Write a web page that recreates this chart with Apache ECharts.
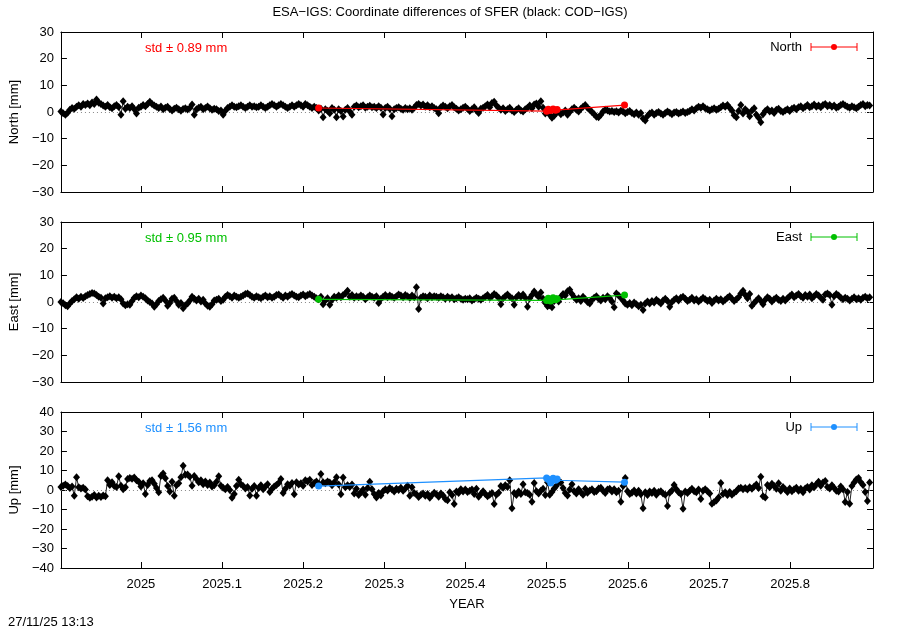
<!DOCTYPE html>
<html>
<head>
<meta charset="utf-8">
<script src="https://cdn.jsdelivr.net/npm/echarts@6/dist/echarts.min.js"></script>
<style>
html,body{margin:0;padding:0;background:#fff;}
#chart{width:900px;height:630px;}
</style>
</head>
<body>
<div id="chart"></div>
<script>
// ---- Data ----
const titleText = 'ESA\u2212IGS: Coordinate differences of SFER (black: COD\u2212IGS)';
const panelNames = ['North', 'East', 'Up'];
const axisNames = ['North [mm]', 'East [mm]', 'Up [mm]'];
const stdLabels = ['std \u00b1 0.89 mm', 'std \u00b1 0.95 mm', 'std \u00b1 1.56 mm'];
const panelColors = ['#ff0000', '#00c000', '#1e90ff'];
const xTickValues = [2025, 2025.1, 2025.2, 2025.3, 2025.4, 2025.5, 2025.6, 2025.7, 2025.8];
const xMin = 2024.9015, xMax = 2025.9022;
const yRanges = [[-30, 30], [-30, 30], [-40, 40]];
// daily sampling grid of the black (COD-IGS) series
const startYear = 2024.9015;
const dayStep = 1 / 365.25;

const northBlack = [
 0.2,-0.5,-1.0,-0.3,0.8,1.5,1.2,2.0,2.5,2.0,
 3.0,2.6,3.2,2.5,3.6,3.0,4.7,3.5,3.0,2.4,
 2.0,2.6,1.8,1.4,2.2,2.6,1.9,-1.0,4.0,1.2,
 2.0,1.5,2.2,1.0,-0.6,1.6,2.0,2.6,2.2,3.0,
 3.8,3.0,2.4,2.0,1.5,2.1,1.0,1.6,2.0,1.1,
 0.6,1.2,1.6,1.0,0.5,1.1,1.4,0.9,1.5,2.8,
 -1.0,1.0,1.6,2.0,1.0,1.5,2.1,1.4,0.8,1.2,
 1.0,0.4,0.6,-1.0,0.5,1.5,2.0,2.5,2.0,1.8,
 2.2,2.5,2.0,1.5,2.0,2.5,2.0,2.2,1.8,2.0,
 2.5,2.0,1.5,2.0,2.5,3.0,2.5,2.0,2.5,3.0,
 2.5,2.0,1.5,2.0,2.5,2.0,2.5,3.0,2.5,2.0,
 3.0,2.5,2.0,1.5,2.0,1.5,0.6,1.2,-2.0,1.0,
 0.5,-0.5,1.5,0.8,-2.0,1.0,0.4,-1.7,0.8,1.5,
 0.2,-1.0,2.0,2.4,1.8,2.2,2.5,1.6,2.0,2.3,
 1.8,2.0,1.5,2.2,1.6,-0.9,1.5,2.0,1.2,-1.6,
 1.0,1.5,1.8,1.2,0.8,1.5,1.0,1.4,0.8,1.6,
 2.6,3.0,2.4,2.8,2.0,2.5,1.8,2.2,1.5,1.0,
 -0.5,1.8,2.4,2.0,1.4,2.2,2.6,1.8,1.2,0.6,
 1.0,1.6,2.0,1.2,0.4,1.0,1.8,0.6,-0.4,1.2,
 1.6,2.2,2.8,1.8,3.4,3.8,2.4,1.6,0.8,1.4,
 0.4,1.0,1.6,0.6,0.0,0.8,1.4,0.6,0.2,1.0,
 1.6,2.4,1.4,2.8,3.2,2.0,4.0,1.6,-0.6,0.4,
 -1.0,-2.2,-1.4,-0.4,0.2,-0.8,-0.2,0.6,-1.0,0.0,
 1.0,1.6,0.8,0.2,1.2,2.0,2.6,1.6,0.8,0.0,
 -0.8,-1.8,-2.0,-1.0,0.2,0.8,0.6,0.2,0.4,0.0,
 0.3,-0.2,0.5,0.2,-0.5,0.0,0.4,-0.4,-0.8,-0.2,
 -1.0,-0.4,-2.4,-3.2,-1.5,-0.6,-0.2,-1.0,-0.4,0.0,
 -0.6,-1.0,-0.4,0.2,-0.3,-0.8,-0.2,0.0,-0.6,-0.2,
 0.2,-0.4,0.0,0.4,1.0,0.6,1.4,2.0,1.6,2.2,
 1.4,1.0,0.6,1.0,1.4,0.8,1.2,1.8,2.4,2.0,
 2.6,1.6,0.6,-1.2,-2.0,0.4,2.6,-0.6,1.0,0.2,
 -1.6,0.6,1.4,-1.0,-2.2,-3.8,-0.8,0.4,1.0,0.2,
 0.6,-0.4,0.8,1.2,0.4,0.0,0.6,1.0,0.4,1.2,
 1.6,1.0,1.8,2.2,1.4,2.0,2.6,1.8,2.2,2.8,
 2.0,2.4,1.8,2.6,3.0,2.2,2.6,2.0,2.4,1.6,
 2.0,2.6,3.0,2.4,2.0,1.6,2.2,1.8,1.4,2.0,
 2.6,3.0,2.2,2.6,2.4
];
const eastBlack = [
 0.0,-0.5,-1.2,-1.6,-0.6,0.4,1.0,1.8,1.2,2.0,
 1.5,2.2,2.6,3.0,3.4,3.2,2.6,2.0,1.6,-0.6,
 1.4,1.8,2.2,1.6,2.0,1.4,1.8,1.0,-0.6,-1.2,
 -0.8,-1.0,0.4,1.6,2.2,1.8,2.4,2.0,1.4,0.6,
 0.0,-0.6,-1.8,-0.8,0.4,1.0,1.6,0.6,-1.4,-0.4,
 1.2,1.6,0.4,-1.0,-0.4,-2.3,-1.2,-0.6,0.6,2.0,
 1.2,0.6,1.2,0.2,0.8,-0.6,-1.4,-1.8,-0.8,0.6,
 0.8,1.2,0.4,0.8,2.0,2.6,2.2,1.6,2.4,2.0,
 1.6,2.0,2.4,3.0,3.2,2.6,2.0,1.6,2.2,1.8,
 1.4,2.0,2.4,1.8,2.2,1.6,2.0,2.6,2.8,2.2,
 1.6,2.4,2.0,2.6,3.0,2.4,2.0,1.8,2.4,2.8,
 2.2,2.6,3.0,2.4,2.0,1.4,1.0,2.0,-0.8,0.6,
 1.4,-1.0,0.8,2.0,1.6,2.4,1.8,2.6,3.2,4.2,
 2.0,2.6,1.6,2.2,1.8,2.4,2.0,1.0,1.8,2.4,
 2.0,1.6,2.2,-0.4,1.2,2.0,2.6,1.8,2.4,2.0,
 1.6,2.2,2.8,2.4,1.8,2.6,2.2,1.6,2.4,1.8,
 5.5,-2.6,1.6,2.2,2.0,1.4,2.4,1.8,2.2,2.0,
 1.6,2.2,1.8,1.2,2.0,1.4,1.8,1.0,1.4,1.8,
 1.2,0.8,1.2,1.0,1.4,0.6,1.0,1.6,1.2,0.8,
 1.4,2.0,2.6,1.6,2.2,3.0,2.4,1.6,-0.8,1.4,
 2.2,2.8,2.0,1.4,-1.0,1.8,2.6,2.0,2.8,1.6,
 -1.8,1.4,2.6,3.9,2.8,2.0,3.6,1.2,-0.4,-1.6,
 -1.2,-2.0,0.4,1.0,0.2,2.0,3.0,2.4,4.0,4.6,
 3.0,1.8,0.8,1.4,0.4,2.0,1.0,0.0,-0.6,0.8,
 1.6,2.2,1.2,0.6,1.6,1.0,2.2,1.4,0.2,-2.0,
 3.2,2.4,1.6,0.6,-0.6,-1.0,-0.4,-1.2,-0.2,-0.8,
 -1.6,-1.0,-3.0,-0.6,0.2,-0.6,0.4,-0.2,0.8,0.2,
 -0.6,0.6,1.2,0.4,-1.8,0.0,0.8,1.4,0.6,1.6,
 2.0,1.2,0.4,0.8,1.6,0.6,1.0,0.2,0.8,1.6,
 1.0,0.4,0.8,-0.4,0.6,1.2,0.6,1.0,0.2,0.8,
 1.6,2.2,1.2,0.4,1.0,1.8,3.2,4.2,2.6,1.4,
 3.0,-1.4,-0.4,0.6,1.4,0.4,-0.8,0.8,1.8,1.2,
 0.2,1.0,1.6,0.8,0.4,1.2,0.6,1.4,2.2,2.8,
 1.8,2.4,3.0,2.2,1.6,2.6,2.0,2.8,1.4,2.2,
 3.0,2.4,1.6,0.8,2.8,3.2,2.6,-1.0,2.2,3.0,
 2.4,1.6,1.0,1.6,1.2,0.6,1.2,1.8,1.0,1.4,
 0.8,1.6,2.0,1.4,1.8
];
const upBlack = [
 1.5,2.2,2.8,2.0,1.0,1.8,-3.0,6.5,1.4,0.8,
 1.2,0.2,-3.2,-4.0,-3.4,-2.6,-3.8,-3.0,-3.6,-2.8,
 -3.2,5.0,2.6,4.0,2.0,1.6,7.0,2.2,0.4,1.4,
 5.6,6.2,5.8,6.4,5.0,4.2,1.8,3.4,-2.0,2.6,
 4.6,5.0,3.2,1.0,-1.2,7.2,8.4,6.0,2.0,-0.8,
 4.2,-3.0,2.4,3.4,6.6,12.4,7.8,8.0,6.8,2.2,
 7.2,5.6,4.0,5.0,3.0,4.4,2.6,3.8,1.8,2.4,
 4.2,7.0,2.2,1.2,0.4,1.6,0.0,-4.0,-2.0,2.0,
 5.2,3.0,2.0,0.8,1.6,-2.8,0.6,2.0,-3.0,1.0,
 2.4,0.4,1.8,3.0,-1.0,0.6,1.8,2.6,3.6,5.6,
 -1.6,0.6,3.0,2.2,3.6,-2.2,4.0,2.8,3.4,2.2,
 5.0,4.4,5.2,2.6,3.6,4.4,3.0,8.2,4.0,3.4,
 4.4,3.8,2.4,4.0,6.6,2.8,-2.2,6.4,1.4,2.4,
 1.6,2.8,-1.8,0.6,-2.6,-1.2,0.2,-2.4,1.0,4.2,
 0.4,-2.0,-3.8,-1.6,-2.8,-0.6,0.4,-0.2,1.0,0.2,
 -0.8,0.6,0.0,1.2,-0.4,0.8,2.2,-3.0,1.4,-1.6,
 -2.2,-3.6,-2.4,-1.8,-3.0,-2.0,-4.0,-2.6,-1.4,-2.2,
 -3.4,-1.8,-2.8,-4.6,-5.2,-1.2,-2.6,-7.2,-0.8,-1.6,
 0.4,-0.8,0.2,-1.0,-0.4,0.2,-2.0,0.6,-3.4,-2.0,
 -0.6,-2.0,-3.2,-2.4,-1.6,-7.2,-2.4,-1.4,2.0,1.2,
 2.4,1.6,5.0,-9.4,-1.6,-2.6,-0.8,-2.0,3.0,-1.2,
 -1.6,-2.4,-6.0,3.6,-0.6,-1.8,-0.4,0.6,-2.6,4.0,
 -2.4,-1.0,0.8,2.2,4.2,3.8,1.0,-1.6,-2.8,0.2,
 3.0,-0.6,-1.8,0.4,-1.2,-2.4,0.6,-1.4,-0.2,0.4,
 -1.0,-0.6,0.8,1.2,-0.4,-1.6,0.2,0.6,-0.8,0.4,
 -1.2,-0.4,-6.0,2.0,6.2,-0.6,-2.0,-1.4,-0.2,-1.8,
 -0.4,-2.2,-9.4,-1.2,-2.6,-0.8,-1.6,-0.4,-2.4,-1.0,
 -0.6,-1.8,-2.4,-8.2,-1.4,-0.2,2.6,0.4,-1.2,-2.0,
 -9.6,-0.8,-1.6,-0.4,0.6,-0.6,-1.2,0.2,-4.6,-0.4,
 0.4,-0.6,-1.8,-7.0,-6.2,-5.4,-3.8,3.6,-2.0,-1.2,
 -2.6,-1.0,-2.4,-1.4,-0.6,0.8,1.2,0.4,1.0,0.2,
 1.4,0.6,1.8,2.8,1.0,6.8,-3.2,-3.8,2.6,1.4,
 3.2,2.0,0.6,3.4,-0.4,1.6,0.2,-1.0,0.8,-0.6,
 0.4,1.2,-0.4,0.6,-1.2,0.8,1.6,0.2,2.4,1.4,
 3.0,4.2,2.2,3.8,4.6,1.6,0.8,2.4,1.0,-0.4,
 -0.8,1.8,0.4,-6.2,-1.0,-7.0,2.0,3.8,5.4,6.2,
 4.0,2.6,-1.0,-5.6,3.8
];

// coloured (ESA-IGS) series: epochs and values
const colorEpochs = [2025.219, 2025.500, 2025.502, 2025.505, 2025.508, 2025.511, 2025.513, 2025.596];
const northColor = [1.5, 0.3, 1.0, 0.6, 1.1, 0.7, 0.9, 2.6];
const eastColor  = [1.0, 0.6, 1.4, 0.4, 1.6, 0.8, 1.2, 2.6];
const upColor    = [2.0, 6.2, 5.4, 3.6, 6.0, 5.0, 5.6, 4.0];

const blackSets = [northBlack, eastBlack, upBlack];
const colorSets = [northColor, eastColor, upColor];

// ---- Layout ----
const FONT = 'Liberation Sans, Arial, sans-serif';
const grids = [
  {left: 60, right: 27, top: 32, height: 160},
  {left: 60, right: 27, top: 222, height: 160},
  {left: 60, right: 27, top: 412, height: 156}
];
const fmtNum = v => (v < 0 ? '\u2212' + Math.abs(v) : String(v));

const xAxes = [], yAxes = [], series = [];
grids.forEach((g, i) => {
  const last = i === 2;
  xAxes.push({
    type: 'value', gridIndex: i, min: xMin, max: xMax, position: 'bottom',
    axisLine: {onZero: false, lineStyle: {color: '#000', width: 1}},
    axisTick: {show: true, inside: true, length: 6, customValues: xTickValues, lineStyle: {color: '#000'}},
    axisLabel: {show: last, customValues: xTickValues, color: '#000', fontFamily: FONT, fontSize: 13, margin: 10,
      formatter: v => String(Number(v.toFixed(1)))},
    splitLine: {show: false},
    name: last ? 'YEAR' : '', nameLocation: 'middle', nameGap: 30,
    nameTextStyle: {color: '#000', fontFamily: FONT, fontSize: 13}
  });
  xAxes.push({
    type: 'value', gridIndex: i, min: xMin, max: xMax, position: 'top',
    axisLine: {onZero: false, lineStyle: {color: '#000', width: 1}},
    axisTick: {show: true, inside: true, length: 6, customValues: xTickValues, lineStyle: {color: '#000'}},
    axisLabel: {show: false}, splitLine: {show: false}
  });
  const [ymin, ymax] = yRanges[i];
  yAxes.push({
    type: 'value', gridIndex: i, min: ymin, max: ymax, interval: 10, position: 'left',
    axisLine: {show: true, onZero: false, lineStyle: {color: '#000', width: 1}},
    axisTick: {show: true, inside: true, length: 6, lineStyle: {color: '#000'}},
    axisLabel: {color: '#000', fontFamily: FONT, fontSize: 13, margin: 7, formatter: fmtNum},
    splitLine: {show: false},
    name: axisNames[i], nameLocation: 'middle', nameGap: 38, nameRotate: 90,
    nameTextStyle: {color: '#000', fontFamily: FONT, fontSize: 13}
  });
  yAxes.push({
    type: 'value', gridIndex: i, min: ymin, max: ymax, interval: 10, position: 'right',
    axisLine: {show: true, onZero: false, lineStyle: {color: '#000', width: 1}},
    axisTick: {show: true, inside: true, length: 6, lineStyle: {color: '#000'}},
    axisLabel: {show: false}, splitLine: {show: false}
  });

  const blackData = blackSets[i].map((v, k) => [startYear + k * dayStep, v]);
  series.push({
    type: 'line', name: 'COD-IGS ' + panelNames[i], xAxisIndex: 2 * i, yAxisIndex: 2 * i,
    data: blackData, symbol: 'diamond', symbolSize: [7, 8], showAllSymbol: true,
    lineStyle: {color: '#222', width: 1}, itemStyle: {color: '#000'}, z: 3,
    markLine: {silent: true, symbol: 'none', label: {show: false},
      lineStyle: {color: '#888', type: [1, 3], width: 1}, data: [{yAxis: 0}], z: 1}
  });
  const colData = colorSets[i].map((v, k) => [colorEpochs[k], v]);
  series.push({
    type: 'line', name: 'ESA-IGS ' + panelNames[i], xAxisIndex: 2 * i, yAxisIndex: 2 * i,
    data: colData, symbol: 'circle', symbolSize: 7, showAllSymbol: true,
    lineStyle: {color: panelColors[i], width: 1.2}, itemStyle: {color: panelColors[i]}, z: 5
  });
});

const graphics = [];
grids.forEach((g, i) => {
  const ky = g.top + 15;
  const c = panelColors[i];
  graphics.push({type: 'text', left: 145, top: ky - 5,
    style: {text: stdLabels[i], fill: c, font: '13px ' + FONT}});
  graphics.push({type: 'text', right: 98, top: ky - 6,
    style: {text: panelNames[i], fill: '#000', font: '13px ' + FONT, align: 'right'}});
  graphics.push({type: 'line', shape: {x1: 811, y1: ky, x2: 857, y2: ky}, style: {stroke: c, lineWidth: 1}});
  graphics.push({type: 'line', shape: {x1: 811, y1: ky - 4, x2: 811, y2: ky + 4}, style: {stroke: c, lineWidth: 1}});
  graphics.push({type: 'line', shape: {x1: 857, y1: ky - 4, x2: 857, y2: ky + 4}, style: {stroke: c, lineWidth: 1}});
  graphics.push({type: 'circle', shape: {cx: 834, cy: ky, r: 3}, style: {fill: c}});
});
graphics.push({type: 'text', left: 8, top: 616,
  style: {text: '27/11/25 13:13', fill: '#000', font: '13px ' + FONT}});

const chart = echarts.init(document.getElementById('chart'), null, {renderer: 'canvas'});
chart.setOption({
  animation: false,
  backgroundColor: '#fff',
  title: {text: titleText, left: 'center', top: 1,
    textStyle: {color: '#000', fontFamily: FONT, fontSize: 13, fontWeight: 'normal'}},
  grid: grids,
  xAxis: xAxes,
  yAxis: yAxes,
  series: series,
  graphic: graphics
});
</script>
</body>
</html>
